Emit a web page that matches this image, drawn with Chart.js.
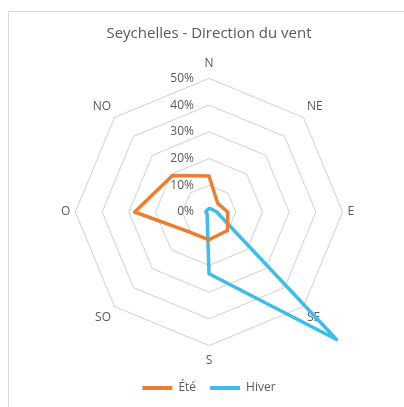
<!DOCTYPE html>
<html>
<head>
<meta charset="utf-8">
<script src="https://cdn.jsdelivr.net/npm/chart.js@4.4.0/dist/chart.umd.min.js"></script>
<style>
	html, body { margin: 0; padding: 0; background: #fff; overflow: hidden; }
	#frame { position: absolute; left: 8px; top: 11px; width: 420px; height: 420px; border: 1px solid #d9d9d9; }
	#wrap { position: absolute; left: 0; top: 0; width: 404px; height: 407px; }
</style>
</head>
<body>
<div id="frame"></div>
<div id="wrap"><canvas id="wind_chart" width="404" height="407"></canvas></div>
<script>
// directions (French)
var directions = ['N', 'NE', 'E', 'SE', 'S', 'SO', 'O', 'NO']
// % of observations per direction
var ete = [13.5, 4.6, 7, 9.8, 10.4, 10.5, 27.8, 19.3]
var hiver = [1.3, 1.5, 2.9, 67.5, 23.1, 1, 1.2, 1]
var tickValues = [0, 10, 20, 30, 40, 50]

var textColor = '#595959'
var font = '"Open Sans", sans-serif'

// tick labels sit left of the vertical axis, like Excel does it
var tickLabels = {
	id: 'tickLabels',
	beforeDatasetsDraw: function (chart) {
		var r = chart.scales.r
		var ctx = chart.ctx
		ctx.save()
		ctx.font = '12px ' + font
		ctx.fillStyle = textColor
		ctx.textAlign = 'right'
		ctx.textBaseline = 'middle'
		tickValues.forEach(function (t) {
			ctx.fillText(t + '%', r.xCenter - 15, r.yCenter - r.getDistanceFromCenterForValue(t))
		})
		ctx.restore()
	},
}

var ctx = document.getElementById('wind_chart').getContext('2d')
var windChart = new Chart(ctx, {
	type: 'radar',
	data: {
		labels: directions,
		datasets: [
			{ label: 'Été', data: ete, borderColor: '#ED7D31', backgroundColor: '#ED7D31' },
			{ label: 'Hiver', data: hiver, borderColor: '#3DBDEA', backgroundColor: '#3DBDEA' },
		],
	},
	options: {
		responsive: false,
		animation: false,
		events: [],
		layout: { padding: { left: 14, right: 0, top: 10, bottom: 3 } },
		elements: {
			line: { borderWidth: 3.5, fill: false, tension: 0, borderJoinStyle: 'round', borderCapStyle: 'round' },
			// points are hidden, borderWidth only feeds the legend line
			point: { radius: 0, hoverRadius: 0, borderWidth: 4 },
		},
		datasets: { radar: { clip: false } },
		scales: {
			r: {
				min: 0,
				max: 50,
				ticks: { display: false, stepSize: 10 },
				grid: { circular: false, color: '#d0d0d0', lineWidth: 1 },
				angleLines: { display: false },
				pointLabels: {
					color: textColor,
					font: { family: font, size: 12 },
					padding: function (c) { return c.index % 4 === 0 ? 8 : 5 },
				},
			},
		},
		plugins: {
			title: {
				display: true,
				text: 'Seychelles - Direction du vent',
				color: textColor,
				font: { family: font, size: 15, weight: 'normal' },
				padding: { top: 15, bottom: 13 },
			},
			legend: {
				position: 'bottom',
				labels: {
					color: textColor,
					font: { family: font, size: 12 },
					usePointStyle: true,
					pointStyle: 'line',
					pointStyleWidth: 30,
					padding: 14,
				},
			},
			tooltip: { enabled: false },
		},
	},
	plugins: [tickLabels],
})
</script>
</body>
</html>
